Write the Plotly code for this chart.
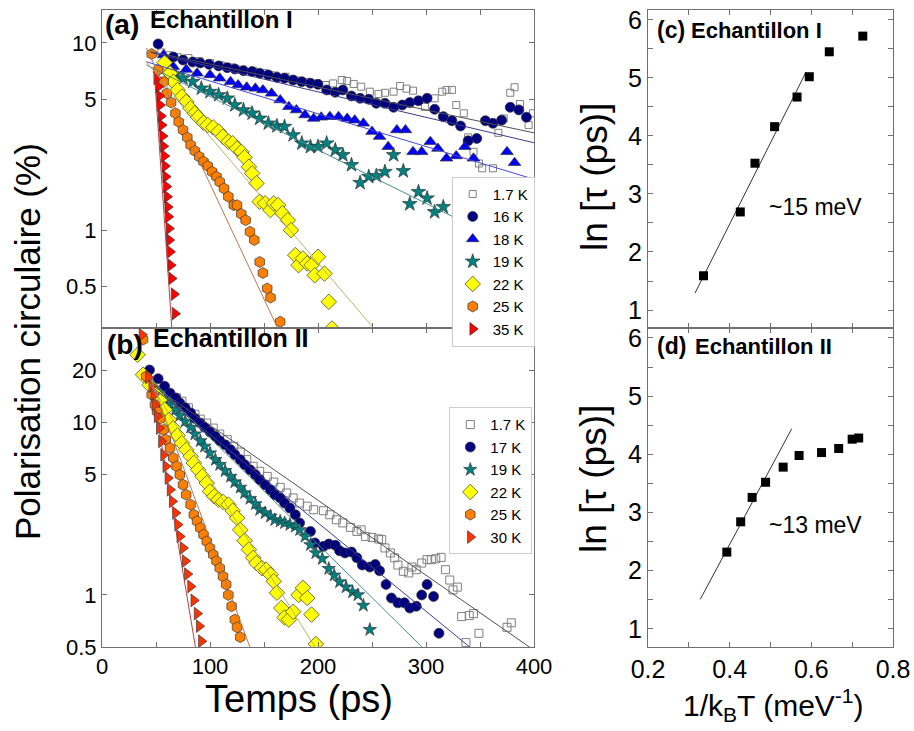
import math
import plotly.graph_objects as go

# ---------------- Panel (a) : Echantillon I ----------------
a_t_1p7 = [55,62,70,80,90,100,110,120,130,140,150,160,170,180,190,199,207,214,222,227,233,240,248,256,262,270,276,282,288,299,308,315,319,324,328,335,339,344,349,352,362,367,372,378,382,387,395,399]
a_p_1p7 = [8.9,8.6,8.4,8.3,8.0,7.8,7.6,7.4,7.2,7.1,6.9,6.7,6.6,6.3,6.2,6.08,5.96,6.08,6.34,6.26,6.04,5.84,5.49,5.34,5.42,5.49,5.89,5.70,5.56,4.56,5.06,5.49,5.61,5.61,4.66,4.21,3.13,2.62,2.27,2.14,2.14,3.31,3.95,5.42,5.80,4.72,3.64,4.21]

a_t_16 = [52,66,75,84,91,99,108,116,123,131,139,146,154,162,169,177,185,193,200,208,216,223,231,239,247,254,262,270,278,285,293,301,308,316,324,332,339,347,355,362,370,378,386,393]
a_p_16 = [9.88,8.41,8.11,7.91,7.82,7.69,7.54,7.38,7.26,7.11,7.03,6.89,6.75,6.56,6.48,6.34,6.21,6.09,6.01,5.61,5.45,5.61,5.21,5.06,5.00,4.76,4.76,4.53,4.66,4.80,4.91,5.06,4.42,4.04,3.84,3.60,3.00,3.09,3.84,3.72,3.87,4.53,4.39,4.01]

a_t_18 = [57,66,78,88,100,109,119,126,134,142,149,157,165,173,180,188,196,203,211,219,227,234,242,250,257,265,273,281,288,296,304,311,319,328,336,344,375,382,399]
a_p_18 = [8.62,7.47,7.22,6.89,6.75,6.48,6.21,5.96,5.80,5.72,5.61,5.38,4.96,4.56,4.38,4.12,3.95,4.01,4.04,4.04,3.95,3.87,3.72,3.36,3.16,2.79,3.43,3.43,2.62,2.62,2.97,2.73,2.42,2.49,2.79,2.42,2.62,2.29,1.45]

a_t_19 = [68,75,84,92,100,108,116,123,131,139,146,154,162,169,177,185,193,200,208,216,223,231,239,247,254,262,270,279,285,293,301,308,316]
a_p_19 = [6.75,6.48,6.21,5.72,5.49,5.27,5.06,4.66,4.38,4.21,3.95,3.72,3.60,3.57,3.22,2.91,2.79,2.79,2.91,2.68,2.52,2.23,1.79,1.93,1.95,2.05,2.52,2.07,1.38,1.60,1.48,1.25,1.33]

a_t_22 = [58,63,66,70,74,78,82,86,89,94,98,103,108,112,117,121,125,129,132,136,139,143,146,151,156,159,163,167,172,175,179,182,186,190,194,197,200,206,210,213]
a_p_22 = [7.85,6.89,6.21,5.61,5.17,4.85,4.48,4.21,4.01,3.75,3.64,3.54,3.36,3.16,2.97,2.91,2.73,2.62,2.45,2.18,2.01,1.78,1.42,1.39,1.28,1.39,1.36,1.23,1.13,1.00,0.735,0.65,0.706,0.664,0.65,0.574,0.72,0.586,0.414,0.298]

a_t_25 = [46,52,57,60,64,68,71,75,79,82,86,90,94,98,102,106,109,113,117,122,125,129,133,137,141,146,149,153,156,165]
a_p_25 = [8.73,7.17,6.21,5.38,4.80,4.21,3.79,3.43,3.13,2.85,2.65,2.47,2.32,2.20,2.05,1.93,1.81,1.67,1.51,1.36,1.36,1.22,1.13,0.98,0.885,0.676,0.59,0.488,0.436,0.324]

a_t_35 = [50.6,52.1,53.1,53.7,54.6,55.2,56.1,56.8,57.7,58.3,58.9,59.6,60.2,60.8,61.4,62,62.3,63,63.6,64.5,66.7,67.6]
a_p_35 = [6.47,5.84,5.21,4.66,4.07,3.64,3.18,2.81,2.49,2.20,1.93,1.71,1.51,1.33,1.18,1.02,0.885,0.766,0.65,0.552,0.455,0.358]

# fitted lines (start/end time, start/end polarisation)
a_fit_t = {"1.7 K": [45, 400], "16 K": [45, 400], "18 K": [41, 400], "19 K": [41, 400],
           "22 K": [41, 255], "25 K": [41, 165], "35 K": [48.4, 65]}
a_fit_p = {"1.7 K": [9.0, 3.31], "16 K": [8.9, 2.93], "18 K": [7.94, 1.87], "19 K": [7.63, 0.72],
           "22 K": [7.9, 0.284], "25 K": [9.4, 0.28], "35 K": [7.03, 0.28]}

# ---------------- Panel (b) : Echantillon II ----------------
b_t_1p7 = [69,74,80,86,91,97,103,109,116,122,128,134,140,146,153,159,165,171,177,183,190,196,205,211,217,223,230,236,240,244,250,256,259,262,267,271,274,279,284,287,291,296,301,305,309,314,318,322,325,329,333,337,340,344,349,375,379]
b_p_1p7 = [13.8,13.2,12.1,11.1,10.4,9.87,9.23,8.52,7.91,7.24,6.71,6.06,5.55,5.19,4.85,4.50,4.19,3.89,3.64,3.40,3.26,3.11,3.07,2.91,2.72,2.61,2.46,2.33,2.38,2.18,2.15,2.11,2.09,1.87,1.75,1.64,1.49,1.37,1.34,1.45,1.40,1.53,1.60,1.60,1.62,1.65,1.40,1.22,1.07,1.11,0.75,0.53,0.76,0.78,0.60,0.65,0.69]

b_t_17 = [44,52,58,63,68,72,77,82,86,91,95,100,105,109,114,119,123,128,132,137,142,146,151,156,160,165,169,174,179,183,193,197,205,210,216,220,225,231,236,241,248,253,257,263,268,274,280,285,291,296,301,307,312]
b_p_17 = [20.0,17.8,16.1,14.7,13.8,12.9,12.1,11.3,10.5,9.87,9.32,8.75,8.26,7.79,7.39,6.92,6.48,6.06,5.67,5.30,4.96,4.64,4.34,4.06,3.80,3.64,3.40,3.18,2.91,2.61,2.33,2.00,1.91,1.97,1.94,1.80,1.75,1.77,1.64,1.49,1.45,1.50,1.38,1.15,0.96,0.90,0.90,0.84,0.86,1.00,1.15,0.98,0.60]

b_t_19 = [47,53,58,63,68,72,77,82,86,91,95,100,105,109,114,119,123,128,132,137,142,146,151,156,160,165,169,174,179,183,188,193,198,204,210,215,220,226,232,237,242,248]
b_p_19 = [15.7,14.7,13.5,12.6,11.8,10.9,10.1,9.32,8.52,7.79,7.24,6.62,6.06,5.67,5.23,4.85,4.50,4.19,3.89,3.61,3.36,3.11,2.98,2.85,2.72,2.67,2.61,2.55,2.49,2.38,2.18,1.95,1.75,1.62,1.42,1.30,1.19,1.11,1.04,1.00,0.87,0.63]

b_t_22 = [33,38,44,49,54,58,62,66,70,74,78,82,85,89,93,97,100,104,108,112,117,121,125,128,132,136,140,143,148,152,156,159,162,166,169,173,177,182,186,190,194,198]
b_p_22 = [24.5,18.8,16.4,14.7,13.5,11.8,10.3,9.23,8.37,7.56,6.92,6.34,5.80,5.30,4.85,4.44,3.97,3.72,3.56,3.45,3.33,3.07,2.79,2.38,2.06,1.83,1.64,1.53,1.43,1.40,1.31,1.20,1.03,0.84,0.74,0.72,0.80,1.00,1.10,0.96,0.77,0.52]

b_t_25 = [38,41,46,49,51,54,57,59,63,66,69,72,75,78,82,85,88,91,94,97,100,103,106,109,112,115,117,120,123,125,128]
b_p_25 = [30,18.4,14.4,12.6,11.5,10.5,9.03,7.91,7.08,6.20,5.55,4.96,4.34,3.80,3.33,2.91,2.67,2.44,2.23,2.04,1.87,1.71,1.57,1.43,1.28,1.15,1.00,0.86,0.72,0.65,0.57]

b_t_30 = [37,43,46,48,49,51,53,55,57,59,61,63,65,68,70,72,75,77,79,82,85,88,90,92]
b_p_30 = [32,18.1,16.1,14.4,12.6,10.8,9.23,7.73,6.47,5.55,4.74,4.06,3.48,2.98,2.55,2.18,1.87,1.57,1.32,1.12,0.93,0.78,0.66,0.54]

b_fit_t = {"1.7 K": [45, 400], "17 K": [45, 345], "19 K": [45, 300],
           "22 K": [45, 200], "25 K": [45, 138], "30 K": [45, 87]}
b_fit_p = {"1.7 K": [16.6, 0.479], "17 K": [16.2, 0.474], "19 K": [17.7, 0.475],
           "22 K": [16.5, 0.47], "25 K": [17.8, 0.48], "30 K": [17.8, 0.48]}

# ---------------- Panels (c), (d) : Arrhenius ----------------
c_x = [0.336, 0.426, 0.462, 0.51, 0.565, 0.595, 0.644, 0.726]
c_y = [1.59, 2.69, 3.53, 4.16, 4.67, 5.02, 5.45, 5.72]
c_fit_x = [0.315, 0.587]
c_fit_y = [1.29, 5.10]

d_x = [0.393, 0.427, 0.455, 0.488, 0.531, 0.57, 0.625, 0.667, 0.70, 0.716]
d_y = [2.32, 2.84, 3.26, 3.52, 3.78, 3.98, 4.03, 4.10, 4.26, 4.28]
d_fit_x = [0.328, 0.552]
d_fit_y = [1.51, 4.44]

time_ticks = [0, 50, 100, 150, 200, 250, 300, 350, 400]
time_ticktext = ["0", "", "100", "", "200", "", "300", "", "400"]
pa_ticks = [0.5, 1, 5, 10]
pb_ticks = [0.5, 1, 5, 10, 20]
inv_ticks = [0.2, 0.3, 0.4, 0.5, 0.6, 0.7, 0.8]
inv_ticktext = ["0.2", "", "0.4", "", "0.6", "", "0.8"]
ln_ticks = [1, 1.5, 2, 2.5, 3, 3.5, 4, 4.5, 5, 5.5, 6]
ln_ticktext = ["1", "", "2", "", "3", "", "4", "", "5", "", "6"]

# ---------------- styles ----------------
W, H = 914, 731
FONT = "Liberation Sans, Arial, sans-serif"
EDGE = dict(color="#333333", width=0.7)

a_series = [
    ("1.7 K", a_t_1p7, a_p_1p7, dict(symbol="square-open", size=7, color="#808080", line=dict(color="#808080", width=1)), "#505050"),
    ("16 K", a_t_16, a_p_16, dict(symbol="circle", size=10, color="#000080", line=EDGE), "#3c3c8c"),
    ("18 K", a_t_18, a_p_18, dict(symbol="triangle-up", size=11, color="#0000ff", line=EDGE), "#4848d8"),
    ("19 K", a_t_19, a_p_19, dict(symbol="star", size=11, color="#008080", line=EDGE), "#4a8c8c"),
    ("22 K", a_t_22, a_p_22, dict(symbol="diamond", size=12, color="#ffff00", line=EDGE), "#b8b46c"),
    ("25 K", a_t_25, a_p_25, dict(symbol="hexagon", size=11, color="#ff8000", line=EDGE), "#b87850"),
    ("35 K", a_t_35, a_p_35, dict(symbol="triangle-right", size=11, color="#ff0000", line=EDGE), "#b84040"),
]
b_series = [
    ("1.7 K", b_t_1p7, b_p_1p7, dict(symbol="square-open", size=8, color="#808080", line=dict(color="#808080", width=1)), "#505050"),
    ("17 K", b_t_17, b_p_17, dict(symbol="circle", size=10, color="#000080", line=EDGE), "#3c3c8c"),
    ("19 K", b_t_19, b_p_19, dict(symbol="star", size=10, color="#008080", line=EDGE), "#4a8c8c"),
    ("22 K", b_t_22, b_p_22, dict(symbol="diamond", size=12, color="#ffff00", line=EDGE), "#b8b46c"),
    ("25 K", b_t_25, b_p_25, dict(symbol="hexagon", size=11, color="#ff8000", line=EDGE), "#b87850"),
    ("30 K", b_t_30, b_p_30, dict(symbol="triangle-right", size=11, color="#ff3300", line=EDGE), "#b84040"),
]

fig = go.Figure()

for name, t, p, mk, lc in a_series:
    fig.add_trace(go.Scatter(x=t, y=p, mode="markers", name=name, marker=mk,
                             xaxis="x", yaxis="y", legend="legend", cliponaxis=True))
for name, t, p, mk, lc in a_series:
    fig.add_trace(go.Scatter(x=a_fit_t[name], y=a_fit_p[name], mode="lines", showlegend=False,
                             line=dict(color=lc, width=1), xaxis="x", yaxis="y"))

for name, t, p, mk, lc in b_series:
    fig.add_trace(go.Scatter(x=t, y=p, mode="markers", name=name, marker=mk,
                             xaxis="x2", yaxis="y2", legend="legend2", cliponaxis=True))
for name, t, p, mk, lc in b_series:
    fig.add_trace(go.Scatter(x=b_fit_t[name], y=b_fit_p[name], mode="lines", showlegend=False,
                             line=dict(color=lc, width=1), xaxis="x2", yaxis="y2"))

fig.add_trace(go.Scatter(x=c_fit_x, y=c_fit_y, mode="lines", showlegend=False,
                         line=dict(color="#333333", width=1), xaxis="x3", yaxis="y3"))
fig.add_trace(go.Scatter(x=c_x, y=c_y, mode="markers", showlegend=False,
                         marker=dict(symbol="square", size=9, color="black"), xaxis="x3", yaxis="y3"))
fig.add_trace(go.Scatter(x=d_fit_x, y=d_fit_y, mode="lines", showlegend=False,
                         line=dict(color="#333333", width=1), xaxis="x4", yaxis="y4"))
fig.add_trace(go.Scatter(x=d_x, y=d_y, mode="markers", showlegend=False,
                         marker=dict(symbol="square", size=9, color="black"), xaxis="x4", yaxis="y4"))

AX = dict(showline=True, linecolor="#707070", linewidth=1, mirror="allticks", ticks="inside",
          ticklen=5, tickcolor="#707070", showgrid=False, zeroline=False, automargin=False)

def px_x(p):
    return p / W

def px_y(p):
    return 1 - p / H

dom_ab_x = [px_x(102), px_x(534)]
dom_cd_x = [px_x(648), px_x(893)]
dom_ac_y = [px_y(328), px_y(10)]
dom_bd_y = [px_y(647), px_y(328)]

fig.update_layout(
    width=W, height=H, margin=dict(l=0, r=0, t=0, b=0, autoexpand=False),
    paper_bgcolor="white", plot_bgcolor="white",
    font=dict(family=FONT, color="black"),
    xaxis=dict(AX, domain=dom_ab_x, anchor="y", range=[0, 400], tickmode="array",
               tickvals=time_ticks, showticklabels=False),
    yaxis=dict(AX, domain=dom_ac_y, anchor="x", type="log",
               range=[math.log10(0.3), math.log10(15)], tickmode="array",
               tickvals=pa_ticks, ticktext=["0.5", "1", "5", "10"], tickfont=dict(size=22)),
    xaxis2=dict(AX, domain=dom_ab_x, anchor="y2", range=[0, 400], tickmode="array",
                tickvals=time_ticks, ticktext=time_ticktext, tickfont=dict(size=22)),
    yaxis2=dict(AX, domain=dom_bd_y, anchor="x2", type="log",
                range=[math.log10(0.5), math.log10(35)], tickmode="array",
                tickvals=pb_ticks, ticktext=["0.5", "1", "5", "10", "20"], tickfont=dict(size=22)),
    xaxis3=dict(AX, domain=dom_cd_x, anchor="y3", range=[0.2, 0.8], tickmode="array",
                tickvals=inv_ticks, showticklabels=False),
    yaxis3=dict(AX, domain=dom_ac_y, anchor="x3", range=[0.69, 6.17], tickmode="array",
                tickvals=ln_ticks, ticktext=ln_ticktext, tickfont=dict(size=25)),
    xaxis4=dict(AX, domain=dom_cd_x, anchor="y4", range=[0.2, 0.8], tickmode="array",
                tickvals=inv_ticks, ticktext=inv_ticktext, tickfont=dict(size=25)),
    yaxis4=dict(AX, domain=dom_bd_y, anchor="x4", range=[0.69, 6.17], tickmode="array",
                tickvals=ln_ticks, ticktext=ln_ticktext, tickfont=dict(size=25)),
    legend=dict(x=px_x(451.7), y=px_y(176.7), xanchor="left", yanchor="top",
                bgcolor="white", bordercolor="#cccccc", borderwidth=1,
                font=dict(size=15, family=FONT), tracegroupgap=0),
    legend2=dict(x=px_x(449.3), y=px_y(407.3), xanchor="left", yanchor="top",
                 bgcolor="white", bordercolor="#cccccc", borderwidth=1,
                 font=dict(size=15, family=FONT), tracegroupgap=0),
)

ann = []
def label(text, x, y, size, xanchor="left", angle=0):
    ann.append(dict(text=text, x=px_x(x), y=px_y(y), xref="paper", yref="paper",
                    xanchor=xanchor, yanchor="middle", showarrow=False, textangle=angle,
                    font=dict(size=size, family=FONT, color="black")))

label("<b>(a)</b>", 103, 24, 28)
label("<b>Echantillon I</b>", 148, 19, 24)
label("<b>(b)</b>", 105, 344, 28)
label("<b>Echantillon II</b>", 151, 338, 25)
label("<b>(c)</b>", 655, 30, 23)
label("<b>Echantillon I</b>", 689, 30, 22)
label("<b>(d)</b>", 655, 346, 23)
label("<b>Echantillon II</b>", 693, 346, 22)
label("~15 meV", 767, 207, 23)
label("~13 meV", 767, 525, 23)
label("Polarisation circulaire (%)", 27, 342, 35, xanchor="center", angle=-90)
label("Temps (ps)", 299, 699, 38, xanchor="center")
label("ln [τ (ps)]", 594, 177, 37, xanchor="center", angle=-90)
label("ln [τ (ps)]", 594, 479, 37, xanchor="center", angle=-90)
label("1/k<sub>B</sub>T (meV<sup>-1</sup>)", 773, 705, 30, xanchor="center")
fig.update_layout(annotations=ann)

fig.write_html("out.html")
